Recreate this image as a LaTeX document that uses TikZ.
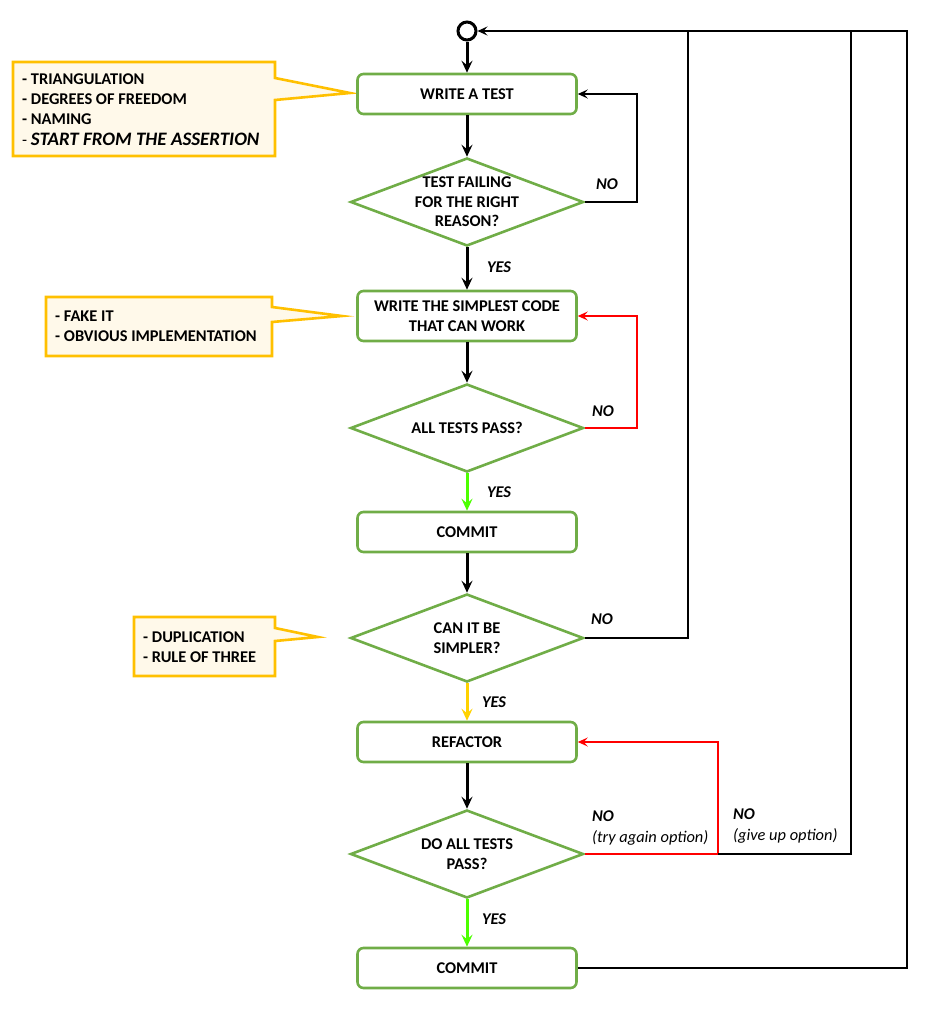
\documentclass[tikz,border=0pt]{standalone}
\usepackage{fontspec}
\setmainfont{Carlito}
\usetikzlibrary{shapes.geometric,arrows.meta}
\definecolor{boxgreen}{HTML}{70AD47}
\definecolor{notefill}{HTML}{FFF9EA}
\definecolor{noteline}{HTML}{FFC000}
\definecolor{yesgreen}{HTML}{4CFF00}
\definecolor{yesyellow}{HTML}{FFD200}
\begin{document}
\begin{tikzpicture}[x=1pt,y=-1pt,
  font=\fontsize{16.4}{19.5}\selectfont\bfseries,
  stepbox/.style={draw=boxgreen,line width=2.6pt,rounded corners=6pt,minimum width=219pt,minimum height=40pt,align=center},
  ask/.style={diamond,draw=boxgreen,line width=2.6pt,minimum width=233pt,minimum height=88pt,inner sep=0pt,aspect=2.65,align=center},
  flow/.style={line width=3pt,-{Stealth[length=12pt,width=11pt,inset=4.5pt]}},
  back/.style={line width=2.4pt,-{Stealth[length=10pt,width=9pt,inset=4pt]}},
  lbl/.style={font=\fontsize{16.4}{21}\selectfont\bfseries\itshape,inner sep=0pt},
  note/.style={draw=noteline,fill=notefill,line width=2.6pt},
  notetext/.style={align=left,inner sep=0pt,font=\fontsize{16.4}{20.3}\selectfont\bfseries}]
\useasboundingbox (0,0) rectangle (929,1009);
\draw[note] (13,62) -- (275,62) -- (275,78) -- (350,93) -- (275,100) -- (275,156) -- (13,156) -- cycle;
\draw[note] (46,297) -- (272,297) -- (272,307) -- (342,316) -- (272,322) -- (272,356) -- (46,356) -- cycle;
\draw[note] (134,617) -- (275,617) -- (275,628) -- (318,637) -- (275,641) -- (275,676) -- (134,676) -- cycle;
\node[notetext,anchor=west] (n1) at (22,109.5) {- TRIANGULATION\\- DEGREES OF FREEDOM\\- NAMING\\{\mdseries -} {\fontsize{19}{20.3}\selectfont\itshape START FROM THE ASSERTION}};
\node[notetext,anchor=west] (n2) at (55,326) {- FAKE IT\\- OBVIOUS IMPLEMENTATION};
\node[notetext,anchor=west] (n3) at (143,647) {- DUPLICATION\\- RULE OF THREE};
\node[circle,draw,line width=3pt,minimum size=18pt,inner sep=0pt] (start) at (467,31) {};
\node[stepbox] (t1) at (467,94) {WRITE A TEST};
\node[ask,inner sep=-2.5pt] (d1) at (467,202) {TEST FAILING\\FOR THE RIGHT\\REASON?};
\node[stepbox,minimum height=50pt] (t2) at (467,316) {WRITE THE SIMPLEST CODE\\THAT CAN WORK};
\node[ask] (d2) at (467,428) {ALL TESTS PASS?};
\node[stepbox] (c1) at (467,532) {COMMIT};
\node[ask] (d3) at (467,638) {CAN IT BE\\SIMPLER?};
\node[stepbox] (rf) at (467,742) {REFACTOR};
\node[ask] (d4) at (467,854) {DO ALL TESTS\\PASS?};
\node[stepbox] (c2) at (467,968) {COMMIT};
\coordinate (r1) at (688,31);
\coordinate (r2) at (851,31);
\coordinate (r3) at (907,31);
\coordinate (s) at (718,854);
\draw[flow] (start) -- (t1);
\draw[flow] (t1) -- (d1);
\draw[flow] (d1) -- (t2);
\draw[flow] (t2) -- (d2);
\draw[flow,yesgreen] (d2) -- (c1);
\draw[flow] (c1) -- (d3);
\draw[flow,yesyellow] (d3) -- (rf);
\draw[flow] (rf) -- (d4);
\draw[flow,yesgreen] (d4) -- (c2);
\draw[back] (d1.east) -- (637,202) |- (t1.east);
\draw[back,red] (d2.east) -- (637,428) |- (t2.east);
\draw[line width=2.4pt] (d3.east) -| (r1);
\draw[back,red] (d4.east) -- (s) |- (rf.east);
\draw[line width=2.4pt] (s) -| (r2);
\draw[back] (c2.east) -| (r3) -- (start);
\node[lbl] (no1) at (607,184) {NO};
\node[lbl] (yes1) at (499,267) {YES};
\node[lbl] (no2) at (603,411) {NO};
\node[lbl] (yes2) at (499,492) {YES};
\node[lbl] (no3) at (602,619) {NO};
\node[lbl] (yes3) at (494,702) {YES};
\node[lbl,anchor=west,align=left] (no4) at (592,828) {NO\\{\mdseries (try again option)}};
\node[lbl,anchor=west,align=left] (no5) at (733,826) {NO\\{\mdseries (give up option)}};
\node[lbl] (yes4) at (494,919) {YES};
\end{tikzpicture}
\end{document}
